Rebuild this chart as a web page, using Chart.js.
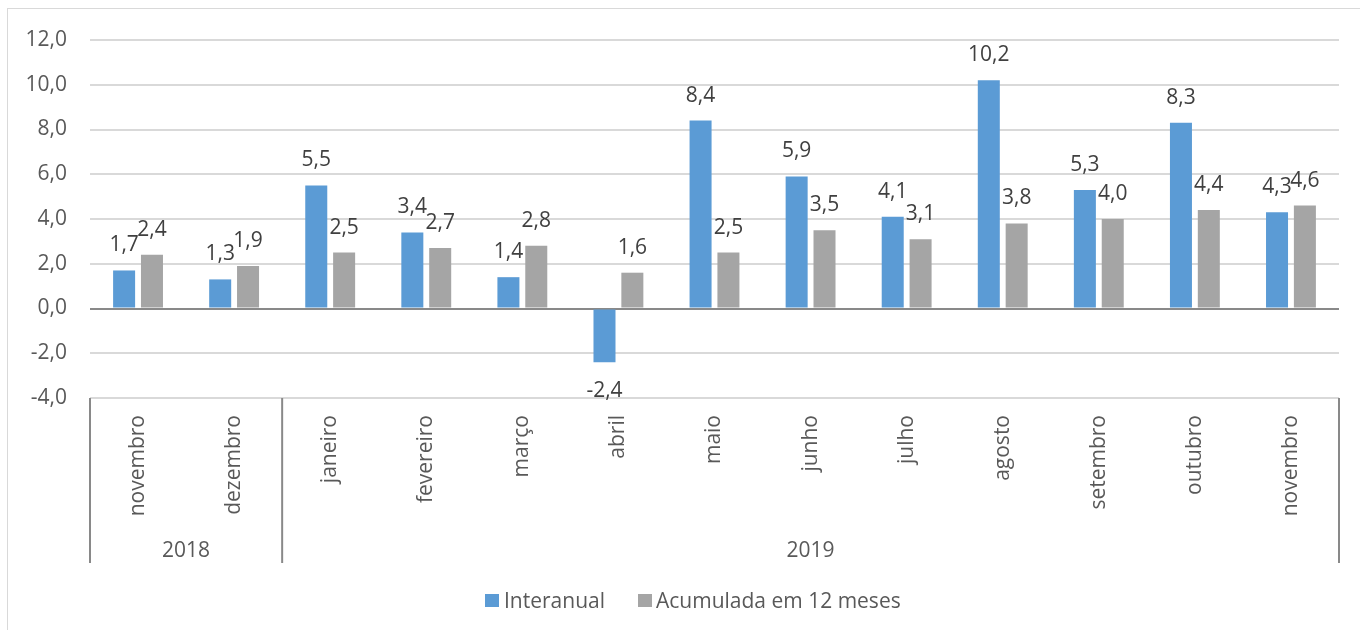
<!DOCTYPE html>
<html>
<head>
<meta charset="utf-8">
<script src="https://cdn.jsdelivr.net/npm/chart.js@4.4.0/dist/chart.umd.min.js"></script>
<style>
  html, body { margin: 0; padding: 0; background: #fff; overflow: hidden; width: 1360px; height: 630px; }
  #frame { position: absolute; left: 7px; top: 8px; width: 1420px; height: 700px; border: 1px solid #D9D9D9; box-sizing: border-box; }
  #wrap { position: absolute; left: 0; top: 0; width: 1360px; height: 630px; }
  .leg { position: absolute; top: 587px; font-family: "Open Sans", sans-serif; font-size: 21px; color: #595959; line-height: 26px; white-space: nowrap; }
  .sw { position: absolute; top: 594px; width: 14px; height: 13px; }
</style>
</head>
<body>
<div id="frame"></div>
<div id="wrap"><canvas id="c" width="1360" height="630"></canvas></div>
<div class="sw" style="left:485px;background:#5B9BD5"></div>
<div class="leg" style="left:504px">Interanual</div>
<div class="sw" style="left:638px;background:#A5A5A5"></div>
<div class="leg" style="left:656px">Acumulada em 12 meses</div>
<script>
const months = ["novembro","dezembro","janeiro","fevereiro","março","abril","maio","junho","julho","agosto","setembro","outubro","novembro"];
const years = ["2018","2019"];
const yearSpans = [2, 11];
const interanual = [1.7, 1.3, 5.5, 3.4, 1.4, -2.4, 8.4, 5.9, 4.1, 10.2, 5.3, 8.3, 4.3];
const acumulada = [2.4, 1.9, 2.5, 2.7, 2.8, 1.6, 2.5, 3.5, 3.1, 3.8, 4.0, 4.4, 4.6];
const seriesNames = ["Interanual", "Acumulada em 12 meses"];
const yTicks = [-4, -2, 0, 2, 4, 6, 8, 10, 12];

const FONT = '"Open Sans", sans-serif';
const FS = 21;
const fmt = v => v.toFixed(1).replace('.', ',');

const labelPlugin = {
  id: 'valueLabels',
  afterDatasetsDraw(chart) {
    const ctx = chart.ctx;
    ctx.save();
    ctx.font = FS + 'px ' + FONT;
    ctx.fillStyle = '#404040';
    ctx.textAlign = 'center';
    ctx.textBaseline = 'alphabetic';
    chart.data.datasets.forEach((ds, di) => {
      const meta = chart.getDatasetMeta(di);
      meta.data.forEach((bar, i) => {
        const v = ds.data[i];
        const y = v >= 0 ? bar.y - 19 : bar.y + 35;
        ctx.fillText(fmt(v), bar.x, y);
      });
    });
    ctx.restore();
  }
};

const groupAxisPlugin = {
  id: 'groupAxis',
  afterDraw(chart) {
    const ctx = chart.ctx;
    const xs = chart.scales.x;
    const n = months.length;
    const w = (xs.right - xs.left) / n;
    const top = chart.chartArea.bottom;
    const bottom = 563;
    ctx.save();
    ctx.strokeStyle = '#898989';
    ctx.lineWidth = 2;
    let idx = 0;
    const bounds = [xs.left];
    yearSpans.forEach(s => { idx += s; bounds.push(xs.left + idx * w); });
    bounds.forEach(bx => {
      ctx.beginPath();
      ctx.moveTo(bx, top);
      ctx.lineTo(bx, bottom);
      ctx.stroke();
    });
    ctx.font = FS + 'px ' + FONT;
    ctx.fillStyle = '#595959';
    ctx.textAlign = 'center';
    ctx.textBaseline = 'alphabetic';
    years.forEach((yr, k) => {
      const cx = (bounds[k] + bounds[k + 1]) / 2;
      ctx.fillText(yr, cx, 557);
    });
    ctx.restore();
  }
};

new Chart(document.getElementById('c'), {
  type: 'bar',
  data: {
    labels: months,
    datasets: [
      { label: seriesNames[0], data: interanual, backgroundColor: '#5B9BD5', categoryPercentage: 0.58, barPercentage: 0.79 },
      { label: seriesNames[1], data: acumulada, backgroundColor: '#A5A5A5', categoryPercentage: 0.58, barPercentage: 0.79 }
    ]
  },
  options: {
    responsive: false,
    animation: false,
    layout: { padding: { left: 0, right: 21, top: 40, bottom: 0 } },
    plugins: { legend: { display: false }, tooltip: { enabled: false } },
    scales: {
      x: {
        grid: { display: false, drawTicks: false },
        border: { display: false },
        ticks: {
          autoSkip: false, minRotation: 90, maxRotation: 90, padding: 17,
          color: '#595959', font: { family: FONT, size: FS }
        },
        afterFit(s) { s.height = 232; }
      },
      y: {
        min: -4, max: 12,
        afterBuildTicks(s) { s.ticks = yTicks.map(v => ({ value: v })); },
        grid: {
          drawTicks: false,
          lineWidth: 2,
          color: c => (c.tick && c.tick.value === 0) ? '#898989' : '#D9D9D9'
        },
        border: { display: false },
        ticks: {
          padding: 23, color: '#595959', font: { family: FONT, size: FS },
          callback: v => fmt(v)
        },
        afterFit(s) { s.width = 90; }
      }
    }
  },
  plugins: [labelPlugin, groupAxisPlugin]
});
</script>
</body>
</html>
